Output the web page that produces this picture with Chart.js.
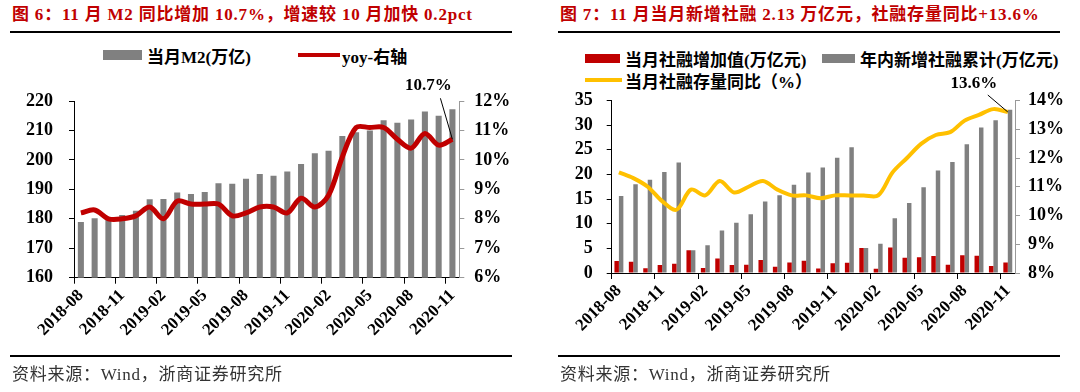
<!DOCTYPE html>
<html lang="zh-CN">
<head>
<meta charset="utf-8">
<title>M2 与社融</title>
<script src="https://cdn.jsdelivr.net/npm/chart.js"></script>
<style>
  html, body { margin: 0; padding: 0; background: #fff; }
  body { width: 1080px; height: 392px; position: relative; overflow: hidden;
         font-family: 'Liberation Serif', 'Noto Sans CJK SC', serif; }
  canvas { position: absolute; top: 0; }
  .title { position: absolute; top: 4px; font-size: 17px; font-weight: bold; color: #C00000;
           line-height: 22px; white-space: nowrap; letter-spacing: 0.8px; }
  .rule { position: absolute; width: 502px; background: #000; }
  .source { position: absolute; top: 364px; font-size: 17px; color: #333; line-height: 22px;
            white-space: nowrap; letter-spacing: 0.75px; }
  .lg { position: absolute; height: 20px; display: flex; align-items: center; white-space: nowrap;
        font-size: 17px; font-weight: bold; color: #000; }
  .lg i { display: inline-block; }
</style>
</head>
<body>

<div class="title" style="left:12px">图 6：11 月 M2 同比增加 10.7%，增速较 10 月加快 0.2pct</div>
<div class="title" style="left:560px">图 7：11 月当月新增社融 2.13 万亿元，社融存量同比+13.6%</div>
<div class="rule" style="left:10px;top:31px;height:2px"></div>
<div class="rule" style="left:558px;top:31px;height:2px"></div>

<!-- легенды -->
<div class="lg" style="left:103px;top:45px"><i style="width:39px;height:10px;background:#808080;margin-right:5px"></i><span id="lgM2"></span></div>
<div class="lg" style="left:298px;top:45px"><i style="width:42px;height:4px;background:#C00000;margin-right:2px"></i><span id="lgYoy"></span></div>
<div class="lg" style="left:585px;top:48px"><i style="width:35px;height:9px;background:#C00000;margin-right:5px"></i><span id="lgTsf"></span></div>
<div class="lg" style="left:822px;top:48px"><i style="width:33px;height:9px;background:#808080;margin-right:5px"></i><span id="lgYtd"></span></div>
<div class="lg" style="left:585px;top:70px"><i style="width:37px;height:4px;background:#FFC000;margin-right:3px"></i><span id="lgStock"></span></div>

<canvas id="m2Chart" width="540" height="392" style="left:0"></canvas>
<canvas id="tsfChart" width="540" height="392" style="left:540px"></canvas>

<div class="rule" style="left:10px;top:355px;height:2px"></div>
<div class="rule" style="left:558px;top:355px;height:2px"></div>
<div class="source" style="left:12px">资料来源：Wind，浙商证券研究所</div>
<div class="source" style="left:560px">资料来源：Wind，浙商证券研究所</div>

<script>
// Данные
const months = ['2018-08', '2018-09', '2018-10', '2018-11', '2018-12',
  '2019-01', '2019-02', '2019-03', '2019-04', '2019-05', '2019-06', '2019-07',
  '2019-08', '2019-09', '2019-10', '2019-11', '2019-12',
  '2020-01', '2020-02', '2020-03', '2020-04', '2020-05', '2020-06', '2020-07',
  '2020-08', '2020-09', '2020-10', '2020-11'];

// M2,万亿
const m2Stock = [178.9, 180.2, 179.6, 181.3, 182.7,
  186.6, 186.7, 188.9, 188.4, 189.1, 192.1, 191.9,
  193.6, 195.2, 194.6, 196.1, 198.6,
  202.3, 203.1, 208.1, 209.4, 210.0, 213.5, 212.6,
  213.7, 216.4, 215.0, 217.2];
// M2 同比, %
const m2Yoy = [8.2, 8.3, 8.0, 8.0, 8.1,
  8.4, 8.0, 8.6, 8.5, 8.5, 8.5, 8.1,
  8.2, 8.4, 8.4, 8.2, 8.7,
  8.4, 8.8, 10.1, 11.1, 11.1, 11.1, 10.7,
  10.4, 10.9, 10.5, 10.7];

// 社融, 万亿元
const tsfMonthly = [2.42, 2.28, 0.94, 1.61, 1.88,
  4.64, 1.00, 2.96, 1.61, 1.68, 2.62, 1.27,
  2.15, 2.49, 0.91, 1.99, 2.08,
  5.07, 0.87, 5.16, 3.09, 3.19, 3.43, 1.69,
  3.58, 3.48, 1.42, 2.13];
const tsfYtd = [15.6, 18.0, 18.9, 20.5, 22.4,
  4.64, 5.65, 8.6, 10.2, 11.9, 14.5, 15.8,
  17.9, 20.4, 21.4, 23.4, 25.5,
  5.07, 5.93, 11.1, 14.2, 17.4, 20.8, 22.5,
  26.1, 29.5, 31.0, 33.1];
// 社融存量同比, %
const tsfStockYoy = [11.5, 11.3, 11.0, 10.5, 10.2,
  10.9, 10.7, 11.2, 10.8, 11.0, 11.2, 10.9,
  10.7, 10.7, 10.6, 10.7, 10.7,
  10.7, 10.7, 11.5, 12.0, 12.5, 12.8, 12.9,
  13.3, 13.5, 13.7, 13.6];

const m2Labels = ['当月M2(万亿)', 'yoy-右轴'];
const tsfLabels = ['当月社融增加值(万亿元)', '年内新增社融累计(万亿元)', '当月社融存量同比（%）'];

document.getElementById('lgM2').textContent = m2Labels[0];
document.getElementById('lgYoy').textContent = m2Labels[1];
document.getElementById('lgTsf').textContent = tsfLabels[0];
document.getElementById('lgYtd').textContent = tsfLabels[1];
document.getElementById('lgStock').textContent = tsfLabels[2];

const SERIF = "'Liberation Serif', 'Noto Sans CJK SC', serif";
const axisFont = size => ({ family: SERIF, size: size, weight: 'bold' });

// Подпись последней точки с выноской
const calloutPlugin = {
  id: 'callout',
  afterDatasetsDraw(chart, args, opts) {
    const meta = chart.getDatasetMeta(opts.datasetIndex);
    const pt = meta.data[meta.data.length - 1];
    const values = chart.data.datasets[opts.datasetIndex].data;
    const ctx = chart.ctx;
    ctx.save();
    ctx.strokeStyle = '#000';
    ctx.lineWidth = 1;
    ctx.beginPath();
    ctx.moveTo(pt.x, pt.y);
    ctx.lineTo(pt.x + opts.lineDx, pt.y + opts.lineDy);
    ctx.stroke();
    ctx.font = 'bold 17px ' + SERIF;
    ctx.fillStyle = '#000';
    ctx.textAlign = 'center';
    ctx.textBaseline = 'middle';
    ctx.fillText(values[values.length - 1].toFixed(1) + '%', pt.x + opts.textDx, pt.y + opts.textDy);
    ctx.restore();
  }
};

function xAxis() {
  return {
    offset: true,
    grid: {
      offset: true, drawOnChartArea: false, drawTicks: true, tickLength: 6,
      color: c => (c.index % 3 === 0 ? '#000' : 'rgba(0,0,0,0)')
    },
    border: { color: '#000' },
    ticks: {
      autoSkip: false, minRotation: 45, maxRotation: 45, padding: 2,
      color: '#000', font: axisFont(17),
      callback: (v, i) => (i % 3 === 0 ? months[i] : '')
    },
    afterFit: s => { s.height = 80; }
  };
}

function yAxis(pos, min, max, step, pad, width, color, suffix) {
  return {
    position: pos, min: min, max: max,
    grid: { drawOnChartArea: false, drawTicks: true, tickLength: 5, color: color },
    border: { color: color },
    ticks: {
      stepSize: step, padding: pad, color: '#000', font: axisFont(18),
      callback: v => v + suffix
    },
    afterFit: s => { s.width = width; }
  };
}

// График M2
new Chart(document.getElementById('m2Chart'), {
  type: 'bar',
  data: {
    labels: months,
    datasets: [{
      type: 'line',
      label: m2Labels[1],
      data: m2Yoy,
      yAxisID: 'y1',
      borderColor: '#C00000',
      borderWidth: 5,
      pointRadius: 0,
      tension: 0.33,
      order: 0
    }, {
      type: 'bar',
      label: m2Labels[0],
      data: m2Stock,
      yAxisID: 'y',
      backgroundColor: '#808080',
      barPercentage: 0.44,
      categoryPercentage: 1,
      order: 1
    }]
  },
  options: {
    responsive: false,
    devicePixelRatio: 1,
    animation: false,
    layout: { padding: { left: 0, right: 20.7, top: 101, bottom: 34.3 } },
    plugins: {
      legend: { display: false },
      tooltip: { enabled: false },
      callout: { datasetIndex: 0, lineDx: -12, lineDy: -41, textDx: -24, textDy: -54 }
    },
    scales: {
      x: xAxis(),
      y: yAxis('left', 160, 220, 10, 16, 74, '#000', ''),
      y1: yAxis('right', 6, 12, 1, 10, 60, '#999', '%')
    }
  },
  plugins: [calloutPlugin]
});

// График社融
new Chart(document.getElementById('tsfChart'), {
  type: 'bar',
  data: {
    labels: months,
    datasets: [{
      type: 'line',
      label: tsfLabels[2],
      data: tsfStockYoy,
      yAxisID: 'y1',
      borderColor: '#FFC000',
      borderWidth: 4,
      pointRadius: 0,
      tension: 0.33,
      order: 0
    }, {
      type: 'bar',
      label: tsfLabels[0],
      data: tsfMonthly,
      yAxisID: 'y',
      backgroundColor: '#C00000',
      barPercentage: 1,
      categoryPercentage: 0.62,
      order: 1
    }, {
      type: 'bar',
      label: tsfLabels[1],
      data: tsfYtd,
      yAxisID: 'y',
      backgroundColor: '#808080',
      barPercentage: 1,
      categoryPercentage: 0.62,
      order: 1
    }]
  },
  options: {
    responsive: false,
    devicePixelRatio: 1,
    animation: false,
    layout: { padding: { left: 0, right: 15, top: 100.5, bottom: 39 } },
    plugins: {
      legend: { display: false },
      tooltip: { enabled: false },
      callout: { datasetIndex: 0, lineDx: -20, lineDy: -17, textDx: -34, textDy: -28 }
    },
    scales: {
      x: xAxis(),
      y: yAxis('left', 0, 35, 5, 14, 71.7, '#000', ''),
      y1: yAxis('right', 8, 14, 1, 8, 50, '#999', '%')
    }
  },
  plugins: [calloutPlugin]
});
</script>
</body>
</html>
